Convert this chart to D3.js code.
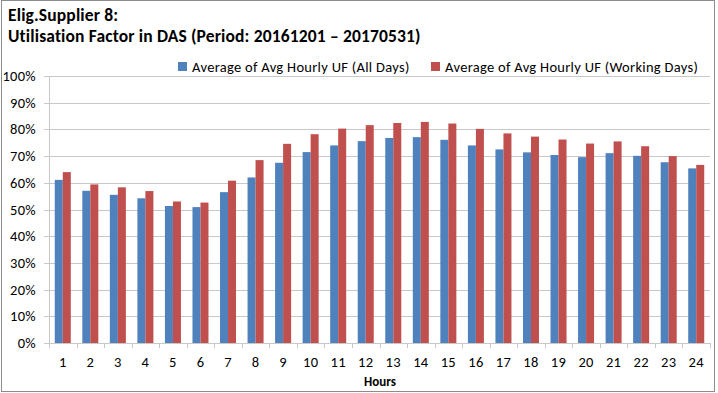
<!DOCTYPE html>
<html>
<head>
<meta charset="utf-8">
<script src="https://cdn.jsdelivr.net/npm/d3@7"></script>
<style>
  body { margin: 0; background: #fff; }
  text { font-family: Carlito, Calibri, "Open Sans", sans-serif; fill: #000; }
</style>
</head>
<body>
<svg id="chart"></svg>
<script>
let hours = d3.range(1, 25).map(String);
let allDays = [61.1, 57.0, 55.5, 54.2, 51.3, 50.9, 56.5, 62.0, 67.5, 71.5, 74.0, 75.6,
               76.8, 77.1, 76.1, 74.0, 72.5, 71.4, 70.4, 69.6, 71.1, 70.1, 67.7, 65.4];
let workingDays = [64.0, 59.4, 58.3, 56.9, 53.0, 52.6, 60.8, 68.5, 74.6, 78.2, 80.3, 81.6,
                   82.4, 82.8, 82.2, 80.2, 78.5, 77.3, 76.2, 74.7, 75.5, 73.7, 70.0, 66.7];
let seriesNames = ["Average of Avg Hourly UF (All Days)", "Average of Avg Hourly UF (Working Days)"];
let colors = ["#4f81bd", "#c0504d"];
let yTicks = [0, 10, 20, 30, 40, 50, 60, 70, 80, 90, 100];

function drawChart() {
    let w = 718, h = 393;
    let margin = { left: 49, right: 8, top: 76, bottom: 50 };

    let svg = d3.select("#chart")
        .attr("width", w)
        .attr("height", h);

    svg.append("rect")
        .attr("x", 1.5).attr("y", 0.5)
        .attr("width", 713).attr("height", 391)
        .attr("fill", "#fff")
        .attr("stroke", "#8c8c8c");

    svg.append("text")
        .attr("x", 8).attr("y", 21)
        .style("font-size", "17.5px").style("font-weight", "bold")
        .style("letter-spacing", "0.15px")
        .text("Elig.Supplier 8:");
    svg.append("text")
        .attr("x", 8).attr("y", 42)
        .style("font-size", "17.5px").style("font-weight", "bold")
        .style("letter-spacing", "0.15px")
        .text("Utilisation Factor in DAS (Period: 20161201 \u2013 20170531)");

    let x0 = d3.scaleBand()
        .domain(hours)
        .range([margin.left, w - margin.right - 0]);

    let x1 = d3.scaleBand()
        .domain([0, 1])
        .range([0, x0.bandwidth()])
        .paddingInner(0)
        .paddingOuter(0.72);

    let y = d3.scaleLinear()
        .domain([0, 100])
        .range([h - margin.bottom, margin.top]);

    // gridlines
    svg.append("g")
        .selectAll("line")
        .data(yTicks)
        .enter()
        .append("line")
        .attr("x1", margin.left - 5)
        .attr("x2", w - margin.right)
        .attr("y1", d => Math.round(y(d)) + 0.5)
        .attr("y2", d => Math.round(y(d)) + 0.5)
        .attr("stroke", "#c8c8c8");

    svg.append("g")
        .selectAll("text")
        .data(yTicks)
        .enter()
        .append("text")
        .attr("x", 36)
        .attr("y", d => y(d) + 5)
        .attr("text-anchor", "end")
        .style("font-size", "14.5px")
        .style("letter-spacing", "0.3px")
        .text(d => d + "%");

    // bars
    let groups = svg.append("g")
        .selectAll("g")
        .data(hours)
        .enter()
        .append("g")
        .attr("transform", d => "translate(" + x0(d) + ",0)");

    groups.selectAll("rect")
        .data((d, i) => [allDays[i], workingDays[i]])
        .enter()
        .append("rect")
        .attr("x", (d, j) => x1(j))
        .attr("y", d => y(d))
        .attr("width", x1.bandwidth())
        .attr("height", d => y(0) - y(d))
        .attr("fill", (d, j) => colors[j]);

    // axes lines
    svg.append("line")
        .attr("x1", margin.left + 0.5).attr("x2", margin.left + 0.5)
        .attr("y1", y(100)).attr("y2", y(0))
        .attr("stroke", "#c8c8c8");

    let xTicks = hours.map(d => x0(d)).concat([x0.range()[1]]);
    svg.append("g")
        .selectAll("line")
        .data(xTicks)
        .enter()
        .append("line")
        .attr("x1", d => Math.round(d) + 0.5)
        .attr("x2", d => Math.round(d) + 0.5)
        .attr("y1", y(0))
        .attr("y2", y(0) + 5)
        .attr("stroke", "#c8c8c8");

    svg.append("g")
        .selectAll("text")
        .data(hours)
        .enter()
        .append("text")
        .attr("x", d => x0(d) + x0.bandwidth() / 2)
        .attr("y", y(0) + 24)
        .attr("text-anchor", "middle")
        .style("font-size", "14.5px")
        .style("letter-spacing", "0.3px")
        .text(d => d);

    svg.append("text")
        .attr("x", 380).attr("y", 386)
        .attr("text-anchor", "middle")
        .style("font-size", "13px").style("font-weight", "bold")
        .text("Hours");

    // legend
    let legendX = [178, 431];
    let legend = svg.append("g")
        .selectAll("g")
        .data(seriesNames)
        .enter()
        .append("g")
        .attr("transform", (d, i) => "translate(" + legendX[i] + ",62)");
    legend.append("rect")
        .attr("width", 9).attr("height", 9)
        .attr("fill", (d, i) => colors[i]);
    legend.append("text")
        .attr("x", 14).attr("y", 10)
        .style("font-size", "14.5px")
        .style("letter-spacing", "0.3px")
        .text(d => d);
}

window.onload = function() {
    drawChart();
};
</script>
</body>
</html>
